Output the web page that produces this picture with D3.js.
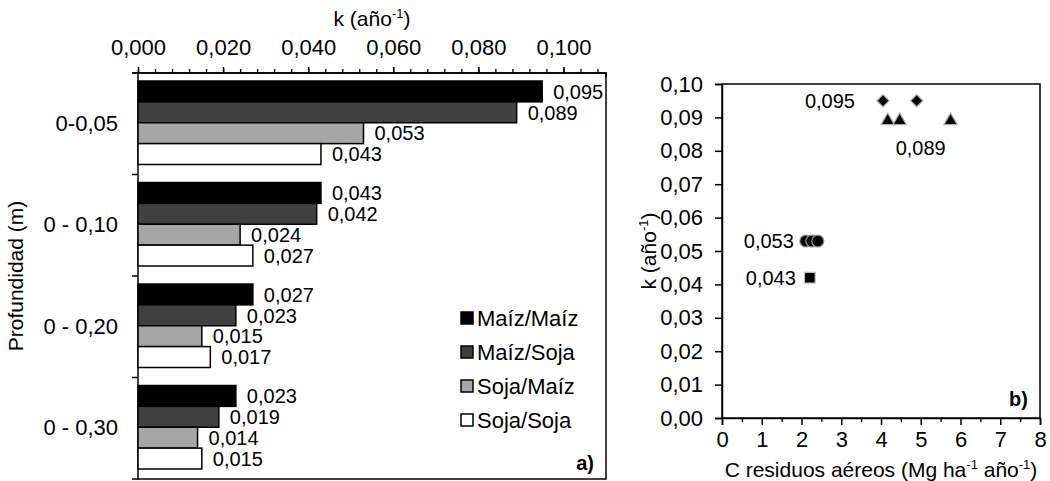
<!DOCTYPE html>
<html>
<head>
<meta charset="utf-8">
<script src="https://cdn.jsdelivr.net/npm/d3@7"></script>
<style>
  body { margin: 0; background: #fff; }
  svg { display: block; font-family: "Liberation Sans", Arial, sans-serif; }
</style>
</head>
<body>
<div id="chart"></div>
<script>
// ---- data ----
var depths = ["0-0,05", "0 - 0,10", "0 - 0,20", "0 - 0,30"];
var rotations = ["Maíz/Maíz", "Maíz/Soja", "Soja/Maíz", "Soja/Soja"];
var maizMaiz = [0.095, 0.043, 0.027, 0.023];
var maizSoja = [0.089, 0.042, 0.023, 0.019];
var sojaMaiz = [0.053, 0.024, 0.015, 0.014];
var sojaSoja = [0.043, 0.027, 0.017, 0.015];
var kTicks = [0, 0.02, 0.04, 0.06, 0.08, 0.1];
var barColors = ["#000000", "#404040", "#a6a6a6", "#ffffff"];

// scatter (panel b)
var residuosMM = [4.05, 4.9];          // k = 0.095
var residuosMS = [4.17, 4.47, 5.75];   // k = 0.089
var residuosSM = [2.11, 2.26, 2.41];   // k = 0.053
var residuosSS = [2.21];               // k = 0.043
var kMM = 0.095, kMS = 0.089, kSM = 0.053, kSS = 0.042;
var kLabels = ["0,095", "0,089", "0,053", "0,043"];

var fmt3 = function (v) { return d3.format(".3f")(v).replace(".", ","); };
var fmt2 = function (v) { return d3.format(".2f")(v).replace(".", ","); };
var FONT = "Liberation Sans, Arial, sans-serif";

var svg = d3.select("#chart").append("svg")
    .attr("width", 1050)
    .attr("height", 481);

// ---------- panel a ----------
var a = {left: 138, right: 606, top: 73, bottom: 479};

var x = d3.scaleLinear().domain([0, 0.11]).range([a.left, a.right]);
var y0 = d3.scaleBand().domain(depths).range([a.top, a.bottom]);
var y1 = d3.scaleBand().domain(rotations).range([8, y0.bandwidth() - 10]);

var seriesVals = [maizMaiz, maizSoja, sojaMaiz, sojaSoja];

// box
svg.append("rect")
    .attr("x", a.left).attr("y", a.top)
    .attr("width", a.right - a.left).attr("height", a.bottom - a.top)
    .attr("fill", "none").attr("stroke", "#000").attr("stroke-width", 1.5);

// minor ticks on top axis
svg.append("g")
    .attr("transform", "translate(0," + a.top + ")")
    .call(d3.axisTop(x).tickValues(d3.range(0, 0.1101, 0.004)).tickSize(4).tickFormat(""))
    .call(function (g) { g.select(".domain").remove(); })
    .selectAll("line").attr("stroke-width", 1.3);

var topAxis = svg.append("g")
    .attr("transform", "translate(0," + a.top + ")")
    .call(d3.axisTop(x).tickValues(kTicks).tickSize(6).tickPadding(12).tickFormat(fmt3));
topAxis.select(".domain").attr("d", "M" + (a.left - 6) + ",0H" + a.right + "V4").attr("stroke-width", 1.5);
topAxis.selectAll("line").attr("stroke-width", 1.5);
topAxis.selectAll("text").attr("font-size", 22).attr("fill", "#000").attr("font-family", FONT);

// left category axis
var leftAxis = svg.append("g")
    .attr("transform", "translate(" + a.left + ",0)")
    .call(d3.axisLeft(y0).tickSize(0).tickPadding(20));
leftAxis.select(".domain").remove();
leftAxis.selectAll("text").attr("font-size", 22).attr("fill", "#000").attr("font-family", FONT);

// band separator ticks
svg.append("g").selectAll("line")
    .data(d3.range(depths.length + 1))
    .join("line")
    .attr("x1", a.left - 6).attr("x2", a.left)
    .attr("y1", function (i) { return a.top + i * y0.step(); })
    .attr("y2", function (i) { return a.top + i * y0.step(); })
    .attr("stroke", "#000").attr("stroke-width", 1.5);

// bars
var groups = svg.append("g").selectAll("g")
    .data(depths)
    .join("g")
    .attr("transform", function (d) { return "translate(0," + y0(d) + ")"; });

function rowData(d, i) {
    return rotations.map(function (r, j) { return {rot: r, j: j, v: seriesVals[j][i]}; });
}

groups.selectAll("rect")
    .data(rowData)
    .join("rect")
    .attr("x", x(0))
    .attr("y", function (d) { return y1(d.rot); })
    .attr("width", function (d) { return x(d.v) - x(0); })
    .attr("height", y1.bandwidth())
    .attr("fill", function (d) { return barColors[d.j]; })
    .attr("stroke", "#000")
    .attr("stroke-width", 1.5);

groups.selectAll("text")
    .data(rowData)
    .join("text")
    .attr("x", function (d) { return x(d.v) + 11; })
    .attr("y", function (d) { return y1(d.rot) + y1.bandwidth() / 2; })
    .attr("dy", "0.36em")
    .attr("font-size", 20)
    .text(function (d) { return fmt3(d.v); });

// top title
var ta = svg.append("text")
    .attr("x", (a.left + a.right) / 2).attr("y", 26)
    .attr("text-anchor", "middle").attr("font-size", 21);
ta.append("tspan").text("k (año");
ta.append("tspan").attr("dy", -8).attr("font-size", 13).text("-1");
ta.append("tspan").attr("dy", 8).text(")");

svg.append("text")
    .attr("transform", "translate(23," + (a.top + a.bottom) / 2 + ") rotate(-90)")
    .attr("text-anchor", "middle").attr("font-size", 21)
    .text("Profundidad (m)");

// legend
var leg = svg.append("g").selectAll("g")
    .data(rotations)
    .join("g")
    .attr("transform", function (d, i) { return "translate(461," + (318 + i * 34) + ")"; });
leg.append("rect")
    .attr("x", 0).attr("y", -6).attr("width", 12).attr("height", 12)
    .attr("fill", function (d, i) { return barColors[i]; })
    .attr("stroke", "#000").attr("stroke-width", 1.5);
leg.append("text")
    .attr("x", 16).attr("dy", "0.36em").attr("font-size", 22)
    .text(function (d) { return d; });

svg.append("text")
    .attr("x", a.right - 12).attr("y", a.bottom - 9)
    .attr("text-anchor", "end").attr("font-size", 20).attr("font-weight", "bold")
    .text("a)");

// ---------- panel b ----------
var b = {left: 722, right: 1040, top: 84, bottom: 418};
var bx = d3.scaleLinear().domain([0, 8]).range([b.left, b.right]);
var by = d3.scaleLinear().domain([0, 0.1]).range([b.bottom, b.top]);

svg.append("rect")
    .attr("x", b.left).attr("y", b.top)
    .attr("width", b.right - b.left).attr("height", b.bottom - b.top)
    .attr("fill", "none").attr("stroke", "#000").attr("stroke-width", 1.5);

var bxMinor = svg.append("g")
    .attr("transform", "translate(0," + b.bottom + ")")
    .call(d3.axisBottom(bx).tickValues(d3.range(0.5, 8, 1)).tickSize(4).tickFormat(""));
bxMinor.select(".domain").remove();
bxMinor.selectAll("line").attr("stroke-width", 1.3);

var bxAxis = svg.append("g")
    .attr("transform", "translate(0," + b.bottom + ")")
    .call(d3.axisBottom(bx).ticks(8).tickSize(7).tickPadding(6));
bxAxis.select(".domain").attr("stroke-width", 1.5);
bxAxis.selectAll("line").attr("stroke-width", 1.5);
bxAxis.selectAll("text").attr("font-size", 22).attr("fill", "#000").attr("font-family", FONT);

var byAxis = svg.append("g")
    .attr("transform", "translate(" + b.left + ",0)")
    .call(d3.axisLeft(by).ticks(10).tickSize(7).tickPadding(12).tickFormat(fmt2));
byAxis.select(".domain").attr("stroke-width", 1.5);
byAxis.selectAll("line").attr("stroke-width", 1.5);
byAxis.selectAll("text").attr("font-size", 22).attr("fill", "#000").attr("font-family", FONT);

var tb = svg.append("text")
    .attr("transform", "translate(656," + (b.top + b.bottom) / 2 + ") rotate(-90)")
    .attr("text-anchor", "middle").attr("font-size", 21);
tb.append("tspan").text("k (año");
tb.append("tspan").attr("dy", -8).attr("font-size", 13).text("-1");
tb.append("tspan").attr("dy", 8).text(")");

var xt = svg.append("text")
    .attr("x", (b.left + b.right) / 2).attr("y", 477)
    .attr("text-anchor", "middle").attr("font-size", 21);
xt.append("tspan").text("C residuos aéreos (Mg ha");
xt.append("tspan").attr("dy", -8).attr("font-size", 13).text("-1");
xt.append("tspan").attr("dy", 8).text(" año");
xt.append("tspan").attr("dy", -8).attr("font-size", 13).text("-1");
xt.append("tspan").attr("dy", 8).text(")");

svg.append("text")
    .attr("x", b.right - 12).attr("y", b.bottom - 12)
    .attr("text-anchor", "end").attr("font-size", 20).attr("font-weight", "bold")
    .text("b)");

function markers(xs, k, type, size, halo) {
    svg.append("g").selectAll("path")
        .data(xs)
        .join("path")
        .attr("transform", function (d) { return "translate(" + bx(d) + "," + by(k) + ")"; })
        .attr("d", d3.symbol().type(type).size(size))
        .attr("fill", "#000")
        .attr("stroke", halo)
        .attr("stroke-width", 2.5)
        .attr("paint-order", "stroke");
}
markers(residuosMM, kMM, d3.symbolDiamond2, 70, "#b0b0b0");
markers(residuosMS, kMS, d3.symbolTriangle, 55, "#b0b0b0");
markers(residuosSM, kSM, d3.symbolCircle, 90, "#909090");
markers(residuosSS, kSS, d3.symbolSquare, 90, "#c0c0c0");

// scatter value labels
svg.append("text").attr("x", bx(residuosMM[0]) - 28).attr("y", by(kMM))
    .attr("dy", "0.36em").attr("text-anchor", "end").attr("font-size", 20).text(kLabels[0]);
svg.append("text").attr("x", bx(residuosMS[1]) - 4).attr("y", by(kMS) + 27)
    .attr("dy", "0.36em").attr("text-anchor", "start").attr("font-size", 20).text(kLabels[1]);
svg.append("text").attr("x", bx(residuosSM[0]) - 12).attr("y", by(kSM))
    .attr("dy", "0.36em").attr("text-anchor", "end").attr("font-size", 20).text(kLabels[2]);
svg.append("text").attr("x", bx(residuosSS[0]) - 14).attr("y", by(kSS))
    .attr("dy", "0.36em").attr("text-anchor", "end").attr("font-size", 20).text(kLabels[3]);
</script>
</body>
</html>
